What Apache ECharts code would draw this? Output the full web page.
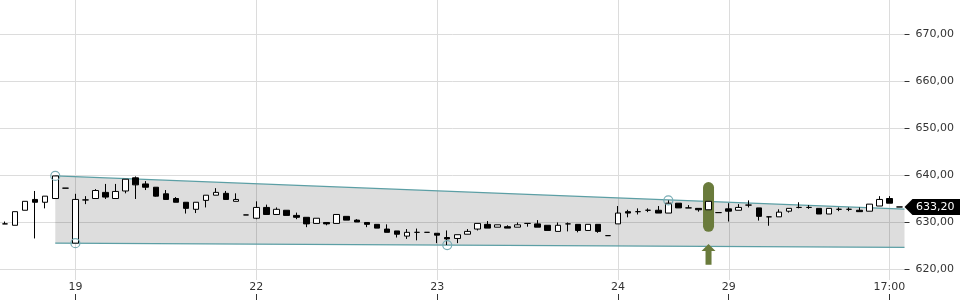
<!DOCTYPE html>
<html><head><meta charset="utf-8">
<script src="https://cdn.jsdelivr.net/npm/echarts@6/dist/echarts.min.js"></script>
<style>html,body{margin:0;padding:0;background:#fff}#c{width:960px;height:300px}</style>
</head><body><div id="c"></div>
<script>
// candles: [open, close, low, high]
const ohlc = [
[629.6,629.6,629.6,630.1],[629.3,632.2,629.3,632.2],[632.5,634.4,632.5,634.4],[634.8,634.2,626.5,636.6],
[634.2,635.5,632.9,635.5],[635.0,639.8,635.0,639.8],[637.2,637.2,637.2,637.2],[625.5,634.8,625.5,636.0],
[634.7,634.7,633.8,635.5],[635.0,636.7,635.0,637.0],[636.3,635.3,634.9,638.1],[635.0,636.5,635.0,638.1],
[636.6,639.1,636.1,639.1],[639.4,637.9,634.9,639.7],[638.1,637.4,636.8,638.7],[637.4,635.5,635.4,637.4],
[636.0,634.8,634.8,636.8],[635.0,634.2,634.2,635.3],[634.2,632.9,631.8,634.2],[632.7,634.2,631.9,634.2],
[634.6,635.7,633.1,635.7],[635.7,636.3,635.7,637.2],[636.1,634.8,634.8,636.6],[634.4,634.8,634.4,636.1],
[631.5,631.5,631.5,631.5],[630.8,633.1,630.6,634.4],[633.1,631.6,631.6,633.7],[631.6,632.7,631.6,633.1],
[632.5,631.4,631.4,632.5],[631.4,631.0,630.6,632.0],[631.0,629.6,628.9,631.0],[629.7,630.8,629.7,630.8],
[629.9,629.6,629.3,629.9],[629.7,631.6,629.7,631.6],[631.2,630.4,630.4,631.2],[630.4,630.0,630.0,630.6],
[629.9,629.5,628.9,629.9],[629.5,628.7,628.7,629.5],[628.5,627.8,627.8,629.5],[628.1,627.4,626.7,628.1],
[627.0,627.8,626.4,628.5],[627.8,627.8,626.1,628.6],[627.8,627.8,627.8,627.8],[627.6,627.2,625.5,627.6],
[626.7,626.4,625.1,628.2],[626.5,627.3,625.5,627.3],[627.4,628.0,627.4,628.5],[628.5,629.7,628.2,629.7],
[629.5,628.7,628.7,630.2],[628.9,629.4,628.9,629.4],[629.0,628.7,628.7,629.3],[628.9,629.4,628.9,629.9],
[629.7,629.7,629.0,629.7],[629.6,628.9,628.9,630.4],[629.3,628.2,628.2,629.3],[628.0,629.3,628.0,629.9],
[629.6,629.6,628.0,629.9],[629.5,628.2,627.8,629.5],[628.2,629.5,628.2,629.5],[629.5,628.0,627.7,629.5],
[627.1,627.1,627.1,627.1],[629.6,631.9,629.6,633.4],[632.2,631.9,631.0,632.6],[632.2,632.2,631.6,632.9],
[632.5,632.5,632.1,632.9],[632.5,631.9,631.9,633.4],[631.9,634.0,631.9,634.6],[634.0,633.0,633.0,634.0],
[633.0,633.0,633.0,633.6],[632.9,632.6,632.2,632.9],[632.6,634.4,632.6,634.4],[632.0,632.0,632.0,632.0],
[632.8,632.3,630.1,634.0],[632.5,633.1,632.5,633.8],[633.6,633.6,633.1,634.6],[633.0,631.2,630.3,633.0],
[631.1,631.1,629.2,631.1],[631.1,632.1,631.1,632.7],[632.3,632.9,632.0,632.9],[633.1,633.1,632.9,634.2],
[633.1,633.1,632.8,633.6],[632.9,631.7,631.7,632.9],[631.7,632.9,631.7,632.9],[632.7,632.7,632.3,633.1],
[632.7,632.7,632.3,633.1],[632.5,632.2,632.2,633.1],[632.3,633.8,632.3,633.8],[633.4,634.8,633.4,635.5],
[635.0,634.0,634.0,635.5],[633.2,633.2,633.2,633.2]
];
const tickIndex = [7, 25, 43, 61, 72, 88];
const tickLabels = ['19', '22', '23', '24', '29', '17:00'];
const yTicks = [620, 630, 640, 650, 660, 670];
const channelTop = [[5, 639.8], [89, 632.8]];
const channelBottom = [[5, 625.5], [89, 624.6]];
const touchPoints = [[5, 639.8], [7, 625.5], [44, 625.1], [66, 634.6]];
const signalBar = [[70, 627.9, 638.5]];
const signalArrow = [[70, 620.9, 625.3]];
const lastPrice = [[89, 633.2]];

const categories = ohlc.map((d, i) => {
  const k = tickIndex.indexOf(i);
  return k >= 0 ? tickLabels[k] : 's' + i;
});
const isTick = (i) => tickIndex.indexOf(i) >= 0;
const FONT = 'DejaVu Sans';
const fmt = (v) => v.toFixed(2).replace('.', ',');
const yLabel = (v) => (v >= yTicks[0] && v <= yTicks[yTicks.length - 1]) ? fmt(v) : '';

const chart = echarts.init(document.getElementById('c'), null, {renderer: 'canvas'});

function channelItem(params, api) {
  const band = api.size([1, 0])[0];
  const ext = (line) => {
    const a = line[0], b = line[1];
    const slope = (b[1] - a[1]) / (b[0] - a[0]);
    const p0 = api.coord([a[0], a[1]]);
    const p1 = api.coord([b[0], b[1]]);
    const pe = api.coord([b[0], b[1] + slope * 0.5]);
    return [p0, [p1[0] + band / 2, pe[1]]];
  };
  const t = ext(channelTop), bt = ext(channelBottom);
  const ls = {stroke: '#5c9fa5', lineWidth: 1.3};
  return {type: 'group', children: [
    {type: 'polygon', shape: {points: [t[0], t[1], bt[1], bt[0]]}, style: {fill: 'rgba(0,0,0,0.135)'}},
    {type: 'line', shape: {x1: t[0][0], y1: t[0][1], x2: t[1][0], y2: t[1][1]}, style: ls},
    {type: 'line', shape: {x1: bt[0][0], y1: bt[0][1], x2: bt[1][0], y2: bt[1][1]}, style: ls}
  ]};
}

const gridBase = {left: 0, width: 904.5, containLabel: false, outerBoundsMode: 'none'};
const option = {
  animation: false,
  backgroundColor: '#fff',
  grid: [
    Object.assign({}, gridBase, {top: -13, height: 329}),
    Object.assign({}, gridBase, {top: 0, height: 280}),
    Object.assign({}, gridBase, {top: 0, height: 294})
  ],
  xAxis: [
    {type: 'category', gridIndex: 0, data: categories, boundaryGap: true,
     axisLine: {show: false}, axisTick: {show: false}, axisLabel: {show: false}, splitLine: {show: false}},
    {type: 'category', gridIndex: 1, data: categories, boundaryGap: true,
     axisLine: {show: false}, axisTick: {show: false}, splitLine: {show: false},
     axisLabel: {show: true, interval: (i) => isTick(i), margin: 2, color: '#333', fontSize: 11, fontFamily: FONT}},
    {type: 'category', gridIndex: 2, data: categories, boundaryGap: true,
     axisLine: {show: false}, axisLabel: {show: false}, splitLine: {show: false},
     axisTick: {show: true, interval: (i) => isTick(i), alignWithLabel: true, length: 6, lineStyle: {color: '#333', width: 1}}}
  ],
  yAxis: [
    {type: 'value', gridIndex: 0, position: 'right', min: yTicks[0] - 10, max: yTicks[yTicks.length - 1] + 10, interval: 10,
     axisLine: {show: false},
     axisTick: {show: true, length: 5, lineStyle: {color: '#333'}},
     axisLabel: {formatter: yLabel, margin: 11, color: '#333', fontSize: 11, fontFamily: FONT},
     splitLine: {show: true, lineStyle: {color: '#dcdcdc', width: 1}}},
    {type: 'value', gridIndex: 1, show: false, min: 0, max: 1},
    {type: 'value', gridIndex: 2, show: false, min: 0, max: 1}
  ],
  series: [
    {type: 'custom', xAxisIndex: 0, yAxisIndex: 0, z: 0, silent: true, clip: false,
     data: tickIndex.map(i => [i, yTicks[0]]),
     renderItem: (params, api) => {
       const x = Math.round(api.coord([api.value(0), api.value(1)])[0]) + 0.5;
       return {type: 'line', shape: {x1: x, y1: 0, x2: x, y2: 280}, style: {stroke: '#dcdcdc', lineWidth: 1}};
     }},
    {type: 'custom', xAxisIndex: 0, yAxisIndex: 0, z: 1, data: [channelTop[0]], renderItem: channelItem, silent: true},
    {type: 'custom', xAxisIndex: 0, yAxisIndex: 0, z: 2, data: signalBar, silent: true,
     renderItem: (params, api) => {
       const hi = api.coord([api.value(0), api.value(2)]);
       const lo = api.coord([api.value(0), api.value(1)]);
       return {type: 'rect', shape: {x: hi[0] - 5.5, y: hi[1], width: 11, height: lo[1] - hi[1], r: 5.5},
               style: {fill: '#6a7b3c'}};
     }},
    {type: 'custom', xAxisIndex: 0, yAxisIndex: 0, z: 2, data: signalArrow, silent: true,
     renderItem: (params, api) => {
       const top = api.coord([api.value(0), api.value(2)]);
       const bot = api.coord([api.value(0), api.value(1)]);
       const x = top[0], yt = top[1], yb = bot[1], yh = yt + 7;
       return {type: 'polygon', shape: {points: [[x, yt], [x + 7, yh], [x + 3, yh], [x + 3, yb], [x - 3, yb], [x - 3, yh], [x - 7, yh]]},
               style: {fill: '#6a7b3c'}};
     }},
    {type: 'candlestick', xAxisIndex: 0, yAxisIndex: 0, z: 3, data: ohlc.map(d => d.slice()), barWidth: 6,
     itemStyle: {color: '#ffffff', color0: '#000000', borderColor: '#000000', borderColor0: '#000000', borderColorDoji: '#000000', borderWidth: 1}},
    {type: 'custom', xAxisIndex: 0, yAxisIndex: 0, z: 4, data: touchPoints, silent: true,
     renderItem: (params, api) => {
       const p = api.coord([api.value(0), api.value(1)]);
       return {type: 'circle', shape: {cx: p[0], cy: p[1], r: 4.5}, style: {fill: 'none', stroke: '#78adb5', lineWidth: 1.2}};
     }},
    {type: 'custom', xAxisIndex: 0, yAxisIndex: 0, z: 5, data: lastPrice, silent: true, clip: false,
     renderItem: (params, api) => {
       const band = api.size([1, 0])[0];
       const p = api.coord([api.value(0), api.value(1)]);
       const x = p[0] + band / 2, y = p[1];
       return {type: 'group', children: [
         {type: 'polygon', shape: {points: [[x, y], [x + 8, y - 8], [x + 56, y - 8], [x + 56, y + 8], [x + 8, y + 8]]}, style: {fill: '#000'}},
         {type: 'text', style: {text: fmt(api.value(1)), x: x + 11.5, y: y + 0.5, fill: '#fff', font: '11px "DejaVu Sans"', verticalAlign: 'middle', align: 'left'}}
       ]};
     }}
  ]
};
chart.setOption(option);
</script></body></html>
